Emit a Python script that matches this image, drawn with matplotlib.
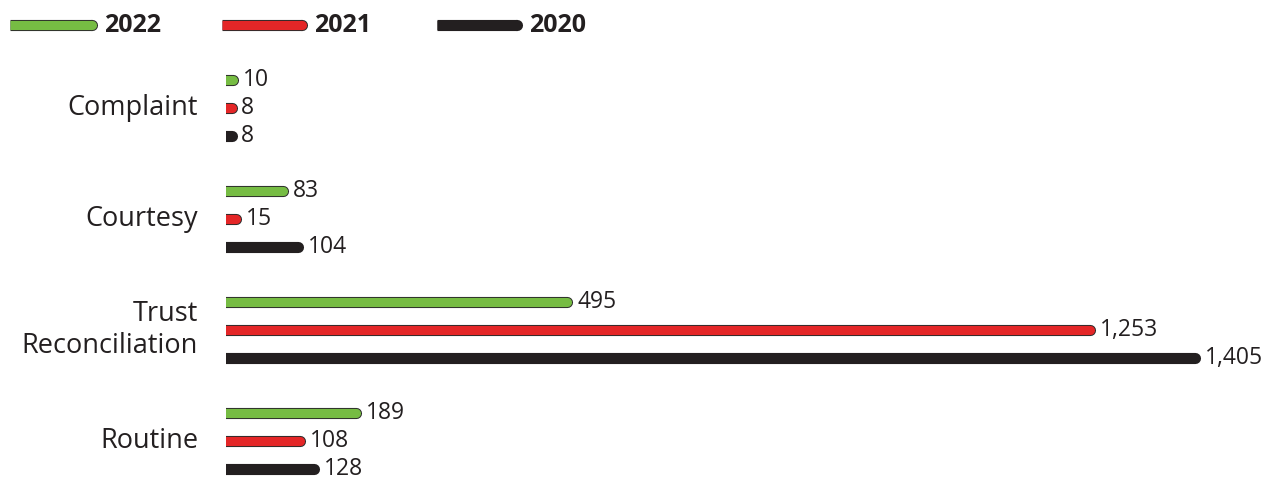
import matplotlib
matplotlib.use("Agg")
import matplotlib.pyplot as plt
from matplotlib.lines import Line2D

categorias = ["Complaint", "Courtesy", "Trust\nReconciliation", "Routine"]
anios = ["2022", "2021", "2020"]
valores = {
    "2022": [10, 83, 495, 189],
    "2021": [8, 15, 1253, 108],
    "2020": [8, 104, 1405, 128],
}
colores = {"2022": "#76bc43", "2021": "#e42627", "2020": "#231f20"}
bordes = {"2022": "#2b2b2b", "2021": "#2b2b2b", "2020": "#231f20"}

plt.rcParams['font.family'] = ['Open Sans', 'DejaVu Sans']

fig = plt.figure(figsize=(12.71, 4.79), dpi=100)
ax = fig.add_axes([226 / 1271, 0, 1 - 226 / 1271, 1])
ax.set_xlim(0, 1515)
ax.set_ylim(14.36, -2.88)
ax.axis("off")

grosor = 8.0
# cada grupo ocupa 4 posiciones: 3 barras y un hueco
for g, cat in enumerate(categorias):
    for j, anio in enumerate(anios):
        y = g * 4 + j
        v = valores[anio][g]
        ax.plot([-50, v], [y, y], color=bordes[anio], lw=grosor,
                solid_capstyle="round")
        ax.plot([-50, v], [y, y], color=colores[anio], lw=grosor - 1.4,
                solid_capstyle="round")
        ax.annotate(f"{v:,}", (v, y), xytext=(7, 0), textcoords="offset points",
                    ha="left", va="center", fontsize=16.5, color="#231f20")
    ax.annotate(cat, (0, g * 4 + 1), xytext=(-20, 0), textcoords="offset points",
                ha="right", va="center", multialignment="right", fontsize=19.5,
                color="#231f20", linespacing=1.2, annotation_clip=False)

# leyenda manual arriba (izquierda recta, derecha redondeada)
x_leyenda = [(10, 92), (222, 302), (437, 517)]
yl = 1 - 25 / 479
for (x0, x1), anio in zip(x_leyenda, anios):
    for c, w in ((bordes[anio], grosor), (colores[anio], grosor - 1.4)):
        fig.add_artist(Line2D([x0 / 1271, x1 / 1271], [yl] * 2,
                              color=c, lw=w, solid_capstyle="butt"))
        fig.add_artist(Line2D([(x1 - 1) / 1271, x1 / 1271], [yl] * 2,
                              color=c, lw=w, solid_capstyle="round"))
    fig.text((x1 + 12) / 1271, 1 - 26 / 479, anio, ha="left", va="center",
             fontsize=18, fontweight="bold", color="#231f20")

fig.savefig("out.png", dpi=100)
